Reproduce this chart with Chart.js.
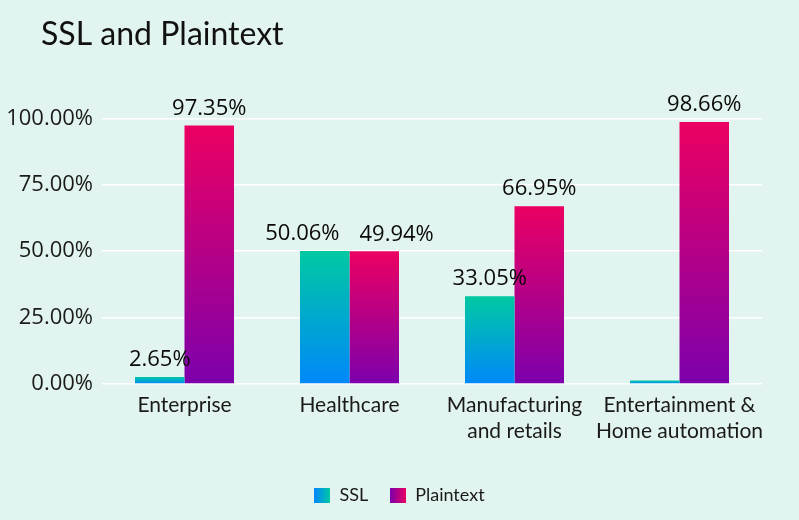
<!DOCTYPE html>
<html>
<head>
<meta charset="utf-8">
<script src="https://cdn.jsdelivr.net/npm/chart.js@4/dist/chart.umd.min.js"></script>
<style>
  html, body { margin: 0; padding: 0; background: #e2f4ef; }
  #wrap { width: 799px; height: 520px; }
</style>
</head>
<body>
<div id="wrap"><canvas id="c" width="799" height="520"></canvas></div>
<script>
const categories = [
  'Enterprise',
  'Healthcare',
  ['Manufacturing', 'and retails'],
  ['Entertainment &', 'Home automation']
];
const sslValues = [2.65, 50.06, 33.05, 1.34];
const plaintextValues = [97.35, 49.94, 66.95, 98.66];
const sslLabelShown = [true, true, true, false];
const plaintextLabelShown = [true, true, true, true];
const yTicks = [0, 25, 50, 75, 100];

const SSL_TOP = '#00c9a2', SSL_BOTTOM = '#0088fa';
const PT_TOP = '#ec0062', PT_BOTTOM = '#7c00ac';
const NUM_FONT = "'Open Sans', 'Noto Sans', sans-serif";
const TXT_FONT = "Lato, 'Noto Sans', sans-serif";

function barGradient(top, bottom) {
  return function (ctx) {
    const chart = ctx.chart;
    if (!chart.chartArea || ctx.type !== 'data') return top;
    const ys = chart.scales.y;
    const v = ctx.parsed ? ctx.parsed.y : ctx.raw;
    const yTop = ys.getPixelForValue(v);
    const yBase = ys.getPixelForValue(0);
    if (!isFinite(yTop) || !isFinite(yBase) || yTop === yBase) return top;
    const g = chart.ctx.createLinearGradient(0, yTop, 0, yBase);
    g.addColorStop(0, top);
    g.addColorStop(1, bottom);
    return g;
  };
}

function legendSwatch(left, right) {
  const cv = document.createElement('canvas');
  cv.width = 16; cv.height = 15;
  const c = cv.getContext('2d');
  const g = c.createLinearGradient(0, 0, 16, 0);
  g.addColorStop(0, left);
  g.addColorStop(1, right);
  c.fillStyle = g;
  c.fillRect(0, 0, 16, 15);
  return cv;
}
const sslSwatch = legendSwatch(SSL_BOTTOM, SSL_TOP);
const ptSwatch = legendSwatch(PT_BOTTOM, PT_TOP);

const valueLabels = {
  id: 'valueLabels',
  afterDatasetsDraw(chart) {
    const ctx = chart.ctx;
    ctx.save();
    ctx.font = '500 22px ' + NUM_FONT;
    ctx.fillStyle = '#0a0a0a';
    ctx.textAlign = 'center';
    ctx.textBaseline = 'bottom';
    const shown = [sslLabelShown, plaintextLabelShown];
    const gap = 20, lift = 6;
    for (let i = 0; i < categories.length; i++) {
      const items = [];
      chart.data.datasets.forEach((ds, di) => {
        const meta = chart.getDatasetMeta(di);
        if (meta.hidden || !shown[di][i]) return;
        const el = meta.data[i];
        const text = ds.data[i].toFixed(2) + '%';
        items.push({ x: el.x, y: el.y - lift, text, w: ctx.measureText(text).width });
      });
      if (items.length === 2) {
        const [a, b] = items;
        const vOverlap = Math.abs(a.y - b.y) < 22;
        const need = (a.w + b.w) / 2 + gap - (b.x - a.x);
        if (vOverlap && need > 0) { a.x -= need / 2; b.x += need / 2; }
      }
      items.forEach(it => ctx.fillText(it.text, it.x, it.y));
    }
    ctx.restore();
  }
};

const blockShift = {
  id: 'blockShift',
  afterLayout(chart) {
    if (chart.titleBlock) chart.titleBlock.left = 41;
    if (chart.legend) { chart.legend.left = 0; chart.legend.right = chart.width; }
  }
};

new Chart(document.getElementById('c'), {
  type: 'bar',
  data: {
    labels: categories,
    datasets: [
      { label: 'SSL', data: sslValues, backgroundColor: barGradient(SSL_TOP, SSL_BOTTOM),
        pointStyle: sslSwatch, borderWidth: 0 },
      { label: 'Plaintext', data: plaintextValues, backgroundColor: barGradient(PT_TOP, PT_BOTTOM),
        pointStyle: ptSwatch, borderWidth: 0 }
    ]
  },
  options: {
    responsive: false,
    animation: false,
    devicePixelRatio: 1,
    layout: { padding: { left: 0, right: 37, top: 0, bottom: 6 } },
    datasets: { bar: { categoryPercentage: 0.6, barPercentage: 1.0 } },
    scales: {
      x: {
        grid: { display: false, drawTicks: false },
        border: { display: false },
        ticks: {
          color: '#1a1a1a',
          font: { family: TXT_FONT, size: 21, lineHeight: 1.25 },
          padding: 8,
          maxRotation: 0,
          autoSkip: false
        },
        afterFit(scale) { scale.height = 80; }
      },
      y: {
        min: 0,
        max: 100,
        afterBuildTicks(scale) { scale.ticks = yTicks.map(v => ({ value: v })); },
        afterFit(scale) { scale.width = 102; },
        grid: { color: '#ffffff', lineWidth: 1.5, drawTicks: false },
        border: { display: false },
        ticks: {
          color: '#1a1a1a',
          font: { family: NUM_FONT, size: 22 },
          padding: 9,
          callback: v => Number(v).toFixed(2) + '%'
        }
      }
    },
    plugins: {
      title: {
        display: true,
        text: 'SSL and Plaintext',
        align: 'start',
        color: '#111111',
        font: { family: TXT_FONT, size: 32, weight: 'normal', lineHeight: 1.2 },
        padding: { top: 15, bottom: 65 }
      },
      legend: {
        position: 'bottom',
        align: 'center',
        labels: {
          usePointStyle: true,
          pointStyleWidth: 16,
          color: '#1a1a1a',
          font: { family: TXT_FONT, size: 18 },
          padding: 22
        }
      },
      tooltip: { enabled: false }
    }
  },
  plugins: [valueLabels, blockShift]
});
</script>
</body>
</html>
